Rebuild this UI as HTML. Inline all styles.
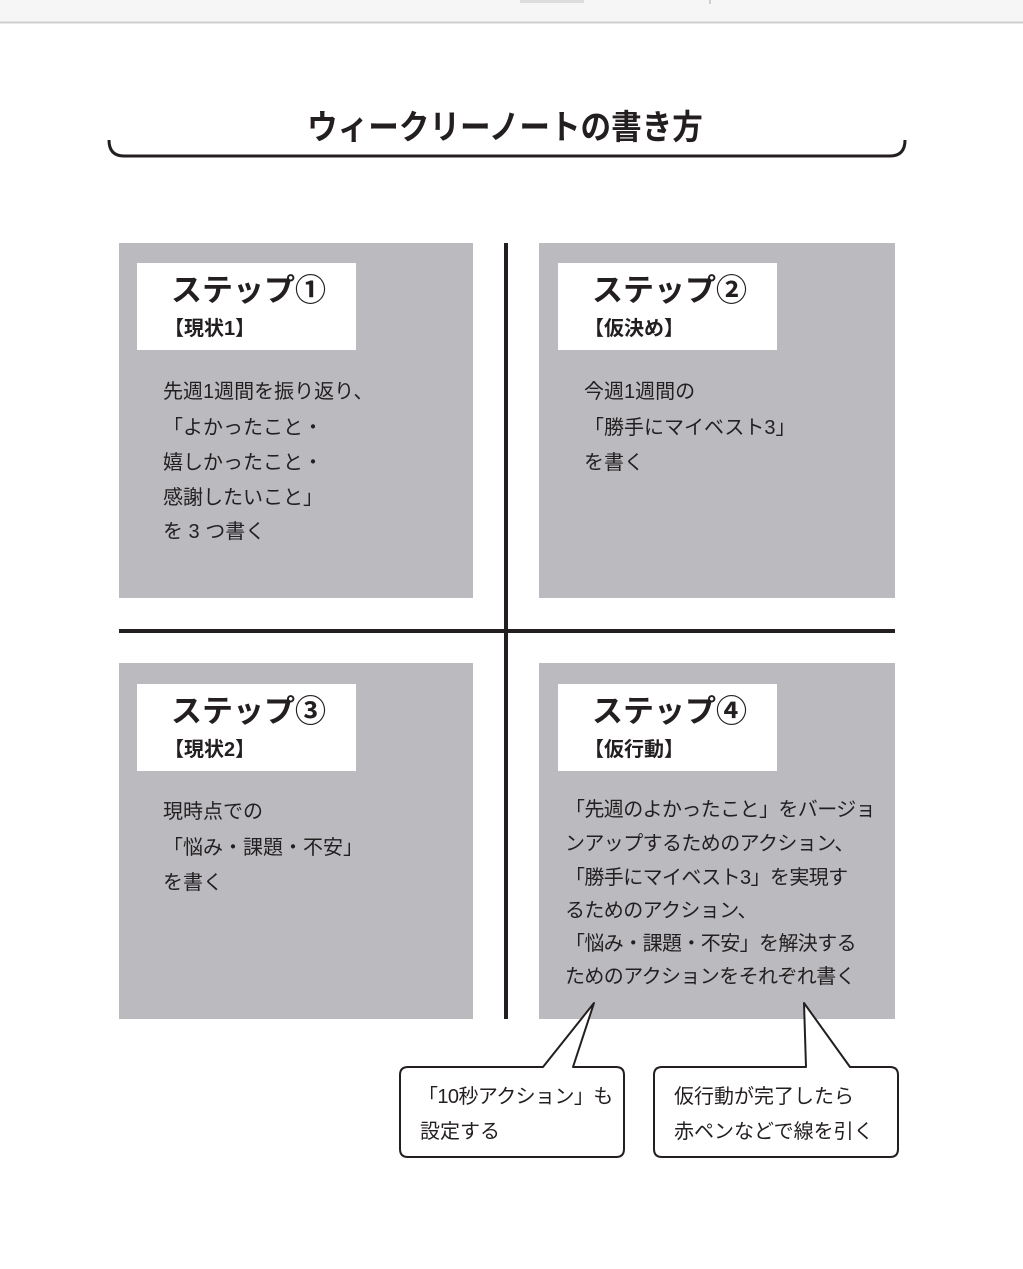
<!DOCTYPE html>
<html><head><meta charset="utf-8"><style>
body{margin:0;background:#fff;}
svg{display:block}
text{font-family:"Liberation Sans","Noto Sans CJK JP",sans-serif;fill:#231f20}
.h{font-size:31px;font-weight:bold}
.s{font-size:20px;font-weight:bold}
.b{font-size:20px}
.n{font-size:20px;letter-spacing:-0.6px}
</style></head><body>
<svg width="1023" height="1269" viewBox="0 0 1023 1269" xmlns="http://www.w3.org/2000/svg">
<rect x="0" y="0" width="1023" height="22" fill="#f6f6f6"/>
<line x1="0" y1="22.5" x2="1023" y2="22.5" stroke="#cfcfcf" stroke-width="2"/>
<rect x="520" y="0" width="64" height="3" fill="#ddd"/>
<line x1="710" y1="0" x2="710" y2="4" stroke="#aaa"/>
<text x="505" y="139" text-anchor="middle" style="font-size:34px;font-weight:bold" transform="translate(505 0) scale(0.9 1) translate(-505 0)">ウィークリーノートの書き方</text>
<path d="M109 140 Q109 156 124 156 L890 156 Q905 156 905 140" fill="none" stroke="#231f20" stroke-width="3"/>
<g fill="#bbbbbf">
<rect x="119" y="243" width="354" height="355"/>
<rect x="539" y="243" width="356" height="355"/>
<rect x="119" y="663" width="354" height="356"/>
<rect x="539" y="663" width="356" height="356"/>
</g>
<rect x="504" y="243" width="4" height="776" fill="#231f20"/>
<rect x="119" y="629" width="776" height="4" fill="#231f20"/>
<g fill="#fff">
<rect x="137" y="263" width="219" height="87"/>
<rect x="558" y="263" width="219" height="87"/>
<rect x="137" y="684" width="219" height="87"/>
<rect x="558" y="684" width="219" height="87"/>
</g>
<text class="h" x="171" y="301">ステップ①</text><text class="s" x="164" y="335">【現状1】</text>
<text class="h" x="592" y="301">ステップ②</text><text class="s" x="584" y="335">【仮決め】</text>
<text class="h" x="171" y="722">ステップ③</text><text class="s" x="164" y="756">【現状2】</text>
<text class="h" x="592" y="722">ステップ④</text><text class="s" x="584" y="756">【仮行動】</text>
<text class="b" x="163" y="398">先週1週間を振り返り、</text>
<text class="b" x="163" y="434">「よかったこと・</text>
<text class="b" x="163" y="469">嬉しかったこと・</text>
<text class="b" x="163" y="504">感謝したいこと」</text>
<text class="b" x="163" y="538">を 3 つ書く</text>
<text class="b" x="584" y="398">今週1週間の</text>
<text class="b" x="584" y="434">「勝手にマイベスト3」</text>
<text class="b" x="584" y="469">を書く</text>
<text class="b" x="163" y="818">現時点での</text>
<text class="b" x="163" y="854">「悩み・課題・不安」</text>
<text class="b" x="163" y="889">を書く</text>
<text class="n" x="565" y="816">「先週のよかったこと」をバージョ</text>
<text class="n" x="565" y="850">ンアップするためのアクション、</text>
<text class="n" x="565" y="884">「勝手にマイベスト3」を実現す</text>
<text class="n" x="565" y="917">るためのアクション、</text>
<text class="n" x="565" y="950">「悩み・課題・不安」を解決する</text>
<text class="n" x="565" y="983">ためのアクションをそれぞれ書く</text>
<path d="M408 1067 L543 1067 L594 1003 L573 1067 L616 1067 Q624 1067 624 1075 L624 1149 Q624 1157 616 1157 L408 1157 Q400 1157 400 1149 L400 1075 Q400 1067 408 1067 Z" fill="#fff" stroke="#231f20" stroke-width="2" stroke-linejoin="round"/>
<path d="M662 1067 L806 1067 L804 1003 L850 1067 L890 1067 Q898 1067 898 1075 L898 1149 Q898 1157 890 1157 L662 1157 Q654 1157 654 1149 L654 1075 Q654 1067 662 1067 Z" fill="#fff" stroke="#231f20" stroke-width="2" stroke-linejoin="round"/>
<text class="n" x="418" y="1103">「10秒アクション」も</text>
<text class="b" x="420" y="1138">設定する</text>
<text class="b" x="674" y="1103">仮行動が完了したら</text>
<text class="b" x="674" y="1138">赤ペンなどで線を引く</text>
</svg>
</body></html>
